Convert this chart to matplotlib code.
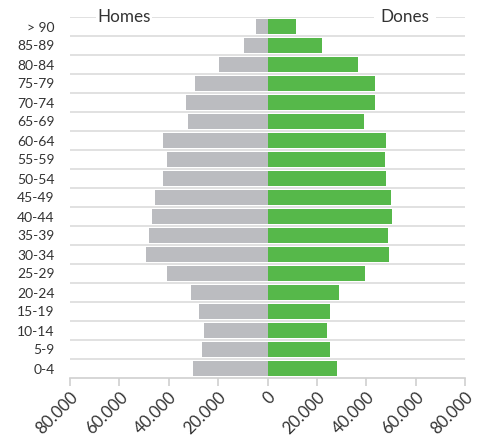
import matplotlib
matplotlib.use("Agg")
import matplotlib.pyplot as plt
from matplotlib.ticker import FuncFormatter

plt.rcParams['font.family'] = ['Lato', 'DejaVu Sans']

# age groups, bottom to top
edats = ['0-4', '5-9', '10-14', '15-19', '20-24', '25-29', '30-34', '35-39',
         '40-44', '45-49', '50-54', '55-59', '60-64', '65-69', '70-74',
         '75-79', '80-84', '85-89', '> 90']
homes = [30000, 26700, 25900, 27900, 30800, 40900, 49400, 47800,
         46600, 45400, 42500, 40900, 42500, 32400, 33200,
         29200, 19800, 9700, 4500]
dones = [28000, 25500, 24300, 25500, 28800, 39300, 49400, 49000,
         50600, 50200, 48200, 47400, 48200, 38900, 43700,
         43700, 36500, 21900, 11700]
xticks = [-80000, -60000, -40000, -20000, 0, 20000, 40000, 60000, 80000]

gris = '#bbbcc0'
verd = '#56b84a'
txt = '#333333'

fig = plt.figure(figsize=(4.81, 4.38), dpi=100)
ax = fig.add_axes([70/481, 1 - 378/438, 395/481, 361/438])

pos = range(len(edats))
ax.barh(pos, [-v for v in homes], height=0.76, color=gris, zorder=3)
ax.barh(pos, dones, height=0.76, color=verd, zorder=3)

ax.set_xlim(-80000, 80000)
ax.set_ylim(-0.5, len(edats) - 0.5)

# horizontal separators between rows
for i in range(len(edats)):
    ax.axhline(i + 0.5, color='#dcdcdc', lw=1.2, zorder=1)

for s in ['top', 'right', 'left']:
    ax.spines[s].set_visible(False)
ax.spines['bottom'].set_color('#d0d0d0')
ax.spines['bottom'].set_linewidth(1.2)

ax.set_yticks(list(pos))
ax.set_yticklabels(edats, fontsize=10, color=txt)
ax.tick_params(axis='y', length=0, pad=11)

ax.set_xticks(xticks)
ax.xaxis.set_major_formatter(FuncFormatter(lambda v, p: f"{abs(int(v)):,}".replace(',', '.')))
ax.tick_params(axis='x', length=6, width=1.2, color='#d0d0d0', labelsize=12,
               labelcolor=txt, pad=2)
for lab in ax.get_xticklabels():
    lab.set_rotation(45)
    lab.set_ha('right')
    lab.set_rotation_mode('anchor')

ax.text(-69000, len(edats) - 0.5, 'Homes', fontsize=12.3, color=txt, va='center',
        ha='left', zorder=5, bbox=dict(facecolor='white', edgecolor='none', pad=1))
ax.text(65600, len(edats) - 0.5, 'Dones', fontsize=12.3, color=txt, va='center',
        ha='right', zorder=5, bbox=dict(facecolor='white', edgecolor='none', pad=5))

fig.savefig('out.png', dpi=100)
